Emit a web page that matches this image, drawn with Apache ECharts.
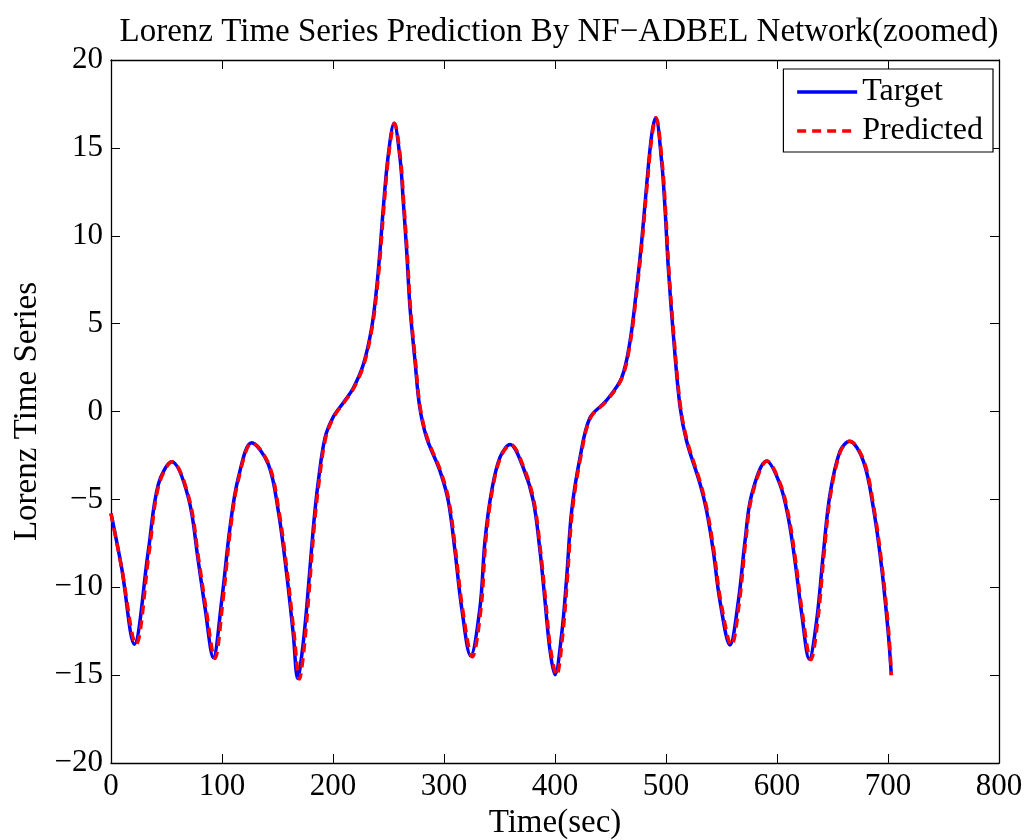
<!DOCTYPE html>
<html>
<head>
<meta charset="utf-8">
<script src="https://cdn.jsdelivr.net/npm/echarts@6/dist/echarts.min.js"></script>
<style>html,body{margin:0;padding:0;background:#fff;}#c{width:1034px;height:840px;}</style>
</head>
<body>
<div id="c"></div>
<script>
var timeX = [0, 9.6, 21, 33.6, 42.6, 54.7, 69.7, 78.6, 84.7, 92.2, 99.7, 107.2, 114.7, 126.7, 141.7, 150.7, 158.3, 164.2, 168.2, 172, 176.3, 182.3, 186.8, 192.8, 200.3, 209.3, 218.3, 227.3, 234.8, 239.3, 242.3, 245.3, 249.8, 255, 260.4, 263.3, 266.4, 269.4, 273.9, 278, 284.4, 296.4, 303.9, 309.9, 315.9, 324, 332.4, 336.9, 342.9, 350.5, 359.5, 371.4, 380.5, 386.5, 391, 395.5, 400, 406, 410.5, 415, 422.5, 431.5, 446, 460, 467.6, 473.6, 478.1, 482.6, 487.1, 490.7, 496.1, 499.1, 502.1, 506.6, 512.6, 518.6, 530.6, 536.6, 542.6, 548.6, 557.6, 565.2, 571.2, 577.2, 590.7, 602.7, 610.2, 616.2, 622.3, 629.1, 635.7, 641.7, 647.7, 656.8, 665.2, 677.8, 686.8, 694.3, 700.3, 703];
var target = [-5.8, -8.9, -13.24, -7.94, -4.15, -2.86, -4.9, -8.5, -11.16, -14.0, -10.78, -6.6, -3.77, -1.78, -3.0, -5.66, -9.26, -12.67, -15.19, -13.8, -11.16, -6.6, -3.96, -1.5, -0.3, 0.5, 1.34, 2.67, 4.75, 7.02, 9.1, 11.57, 14.6, 16.4, 14.4, 11.95, 9.1, 5.89, 2.86, 0.3, -1.5, -3.39, -5.1, -7.94, -11.16, -13.9, -11.16, -7.37, -4.53, -2.6, -1.88, -3.2, -5.1, -7.94, -10.78, -13.6, -14.98, -12.67, -9.45, -5.66, -2.64, -0.36, 0.6, 1.91, 4.0, 7.02, 9.68, 12.9, 15.74, 16.72, 14.2, 11.57, 8.16, 4.38, 0.3, -1.69, -4.1, -5.66, -7.94, -10.78, -13.28, -10.78, -7.37, -4.72, -2.82, -4.15, -6.05, -8.5, -11.53, -14.09, -11.9, -8.1, -4.72, -2.26, -1.69, -2.82, -5.48, -8.89, -12.67, -15.0];
var predictedX = [0, 9.6, 22.5, 34.5, 43.2, 55.2, 70.2, 79.2, 85.5, 93.6, 100.8, 107.8, 115.2, 127.2, 142.2, 151.3, 159, 165, 169.8, 173.4, 177.3, 183, 187.5, 193.4, 200.8, 209.8, 218.8, 227.8, 235.2, 239.8, 242.8, 245.8, 250.2, 255.4, 260.8, 263.7, 266.8, 269.8, 274.3, 278.4, 284.9, 297, 304.5, 310.5, 316.6, 325.5, 333.4, 337.6, 343.4, 351, 360, 372, 381, 387, 391.6, 396.2, 401.4, 407, 411.2, 415.6, 423, 432, 446.5, 460.4, 468, 474, 478.5, 483, 487.5, 491, 496.5, 499.5, 502.5, 507, 513, 519.2, 531.2, 537.2, 543.2, 549.3, 559, 566.2, 571.8, 577.8, 591.2, 603.2, 610.8, 616.8, 623, 630.5, 636.7, 642.4, 648.3, 657.3, 665.7, 678.3, 687.3, 694.8, 700.8, 703];
var predicted = [-5.8, -8.9, -13.25, -7.94, -4.15, -2.86, -4.9, -8.5, -11.16, -14.05, -10.78, -6.6, -3.77, -1.78, -3.0, -5.66, -9.26, -12.67, -15.22, -13.8, -11.16, -6.6, -3.96, -1.5, -0.3, 0.5, 1.34, 2.67, 4.75, 7.02, 9.1, 11.57, 14.6, 16.4, 14.4, 11.95, 9.1, 5.89, 2.86, 0.3, -1.5, -3.39, -5.1, -7.94, -11.16, -13.95, -11.16, -7.37, -4.53, -2.6, -1.88, -3.2, -5.1, -7.94, -10.78, -13.6, -15.0, -12.67, -9.45, -5.66, -2.64, -0.36, 0.6, 1.91, 4.0, 7.02, 9.68, 12.9, 15.74, 16.72, 14.2, 11.57, 8.16, 4.38, 0.3, -1.69, -4.1, -5.66, -7.94, -10.78, -13.3, -10.78, -7.37, -4.72, -2.82, -4.15, -6.05, -8.5, -11.53, -14.12, -11.9, -8.1, -4.72, -2.26, -1.69, -2.82, -5.48, -8.89, -12.67, -15.0];
var xTicks = [0, 100, 200, 300, 400, 500, 600, 700, 800];
var yTicks = [-20, -15, -10, -5, 0, 5, 10, 15, 20];

function pairs(xs, ys) { return xs.map(function (x, i) { return [x, ys[i]]; }); }
function minus(v) { return String(v).replace('-', '\u2212'); }

var FONT = 'Liberation Serif';
var FS = 31;
var txt = { fontFamily: FONT, fontSize: FS, color: '#000' };
var nameTxt = { fontFamily: FONT, fontSize: 33, color: '#000' };
var axLine = { show: true, onZero: false, lineStyle: { color: '#000', width: 1.3 } };
var tick = { show: true, inside: true, length: 9, lineStyle: { color: '#000', width: 1 } };

var chart = echarts.init(document.getElementById('c'), null, { renderer: 'canvas' });
chart.setOption({
  animation: false,
  backgroundColor: '#fff',
  title: {
    text: 'Lorenz Time Series Prediction By NF\u2212ADBEL Network(zoomed)',
    left: 554, textAlign: 'center', top: 11,
    textStyle: { fontFamily: FONT, fontSize: 33, fontWeight: 'normal', color: '#000' }
  },
  legend: {
    right: 41, top: 69, orient: 'vertical', align: 'left',
    backgroundColor: '#fff', borderColor: '#000', borderWidth: 1.2,
    padding: [7, 10, 5, 12], itemGap: 7, itemWidth: 60, itemHeight: 16,
    itemStyle: { opacity: 0 },
    lineStyle: { width: 3.5 },
    textStyle: { fontFamily: FONT, fontSize: 32, color: '#000', padding: [0, 0, 0, 0] },
    data: ['Target', 'Predicted']
  },
  grid: { left: 111, right: 35, top: 60, bottom: 77, outerBoundsMode: 'none', containLabel: false },
  xAxis: [{
    type: 'value', min: xTicks[0], max: xTicks[xTicks.length - 1], interval: 100,
    name: 'Time(sec)', nameLocation: 'middle', nameGap: 38, nameTextStyle: nameTxt,
    axisLine: axLine, axisTick: tick, splitLine: { show: false },
    axisLabel: Object.assign({ margin: 8, formatter: function (v) { return minus(v); } }, txt)
  }, {
    type: 'value', min: xTicks[0], max: xTicks[xTicks.length - 1], interval: 100, position: 'top',
    axisLine: axLine, axisTick: tick, splitLine: { show: false }, axisLabel: { show: false }
  }],
  yAxis: [{
    type: 'value', min: yTicks[0], max: yTicks[yTicks.length - 1], interval: 5,
    name: 'Lorenz Time Series', nameLocation: 'middle', nameGap: 67, nameTextStyle: nameTxt,
    axisLine: axLine, axisTick: tick, splitLine: { show: false },
    axisLabel: Object.assign({ margin: 8, formatter: function (v) { return minus(v); } }, txt)
  }, {
    type: 'value', min: yTicks[0], max: yTicks[yTicks.length - 1], interval: 5, position: 'right',
    axisLine: axLine, axisTick: tick, splitLine: { show: false }, axisLabel: { show: false }
  }],
  series: [{
    name: 'Target', type: 'line', smooth: 0.35, symbol: 'none',
    lineStyle: { color: '#0000ff', width: 3.5 }, itemStyle: { color: '#0000ff' },
    data: pairs(timeX, target)
  }, {
    name: 'Predicted', type: 'line', smooth: 0.35, symbol: 'none',
    lineStyle: { color: '#ff0000', width: 3.5, type: [9, 6] }, itemStyle: { color: '#ff0000' },
    data: pairs(predictedX, predicted)
  }]
});
</script>
</body>
</html>
